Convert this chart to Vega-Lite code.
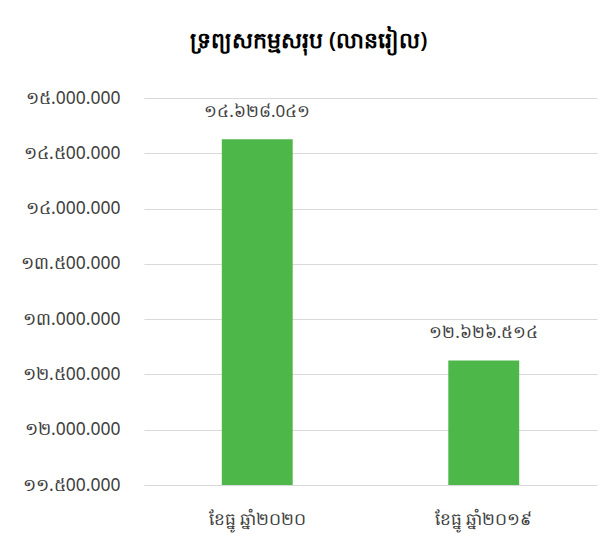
{
  "$schema": "https://vega.github.io/schema/vega-lite/v6.json",
  "width": 453,
  "height": 387,
  "autosize": {"type": "none"},
  "padding": {"left": 144, "top": 98, "right": 14, "bottom": 68},
  "background": "white",
  "title": {
    "text": "ទ្រព្យសកម្មសរុប (លានរៀល)",
    "anchor": "middle",
    "frame": "bounds",
    "fontSize": 22,
    "fontWeight": 600,
    "color": "#000000",
    "offset": 36
  },
  "data": {
    "values": [
      {"period": "ខែធ្នូ ឆ្នាំ២០២០", "value": 14628041},
      {"period": "ខែធ្នូ ឆ្នាំ២០១៩", "value": 12626514}
    ]
  },
  "encoding": {
    "x": {
      "field": "period",
      "type": "nominal",
      "sort": null,
      "scale": {"paddingInner": 0.687, "paddingOuter": 0.3435},
      "axis": {
        "title": null,
        "labelAngle": 0,
        "labelFontSize": 17,
        "labelColor": "#404040",
        "labelPadding": 26,
        "ticks": false,
        "domain": false
      }
    },
    "y": {
      "field": "value",
      "type": "quantitative",
      "scale": {"domain": [11500000, 15000000], "nice": false, "zero": false},
      "axis": {
        "title": null,
        "values": [11500000, 12000000, 12500000, 13000000, 13500000, 14000000, 14500000, 15000000],
        "format": ",d",
        "labelFontSize": 17.5,
        "labelColor": "#404040",
        "labelPadding": 24,
        "ticks": false,
        "domain": false,
        "gridColor": "#d9d9d9",
        "gridWidth": 1
      }
    }
  },
  "layer": [
    {
      "mark": {"type": "bar", "color": "#4db749", "clip": true}
    },
    {
      "mark": {"type": "text", "baseline": "bottom", "dy": -18, "fontSize": 17, "color": "#404040"},
      "encoding": {
        "text": {"field": "value", "type": "quantitative", "format": ",d"}
      }
    }
  ],
  "config": {
    "font": "Noto Sans",
    "view": {"stroke": null},
    "locale": {
      "number": {
        "decimal": ",",
        "thousands": ".",
        "grouping": [3],
        "currency": ["", ""],
        "numerals": ["0", "១", "២", "៣", "៤", "៥", "៦", "៧", "៨", "៩"]
      }
    }
  }
}
